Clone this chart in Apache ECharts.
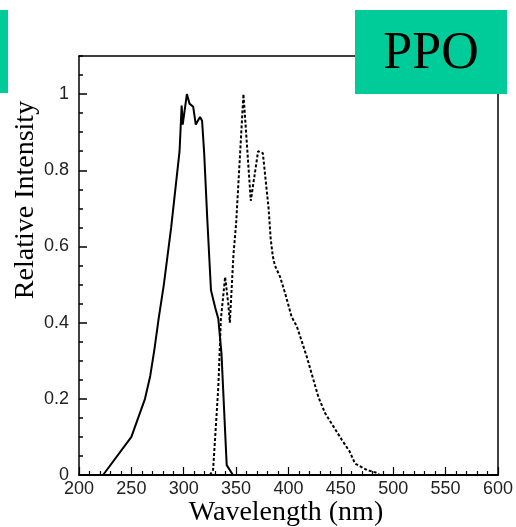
<!DOCTYPE html>
<html>
<head>
<meta charset="utf-8">
<script src="https://cdn.jsdelivr.net/npm/echarts@6/dist/echarts.min.js"></script>
<style>html,body{margin:0;padding:0;background:#fff;}#c{width:516px;height:527px;}</style>
</head>
<body>
<div id="c"></div>
<script>
// Absorption (solid) spectrum
var absWavelength = [223, 250, 263, 268, 272, 276, 281, 288, 296, 298, 299, 303, 305.5, 309, 311.5, 313, 315.5, 317.5, 319.5, 322.5, 326, 330, 333, 336, 341, 347];
var absIntensity  = [0, 0.1, 0.2, 0.26, 0.33, 0.41, 0.5, 0.65, 0.85, 0.97, 0.92, 1.0, 0.975, 0.967, 0.92, 0.92, 0.94, 0.93, 0.845, 0.67, 0.485, 0.44, 0.41, 0.32, 0.026, 0];
// Emission (dotted) spectrum
var emWavelength = [325, 328, 333, 335.5, 339.5, 342.5, 344, 347.5, 350, 357, 364, 371, 375.5, 381, 383, 385, 387, 392, 397, 403, 408, 417.5, 422, 428.5, 435, 443, 451, 458.5, 463.5, 475, 484, 487];
var emIntensity  = [0, 0.013, 0.23, 0.41, 0.52, 0.45, 0.40, 0.58, 0.66, 1.0, 0.72, 0.85, 0.845, 0.70, 0.62, 0.575, 0.55, 0.52, 0.475, 0.415, 0.39, 0.31, 0.267, 0.205, 0.162, 0.127, 0.092, 0.061, 0.03, 0.013, 0.006, 0];

var xTicks = {min: 200, max: 600, step: 50};
var yTicks = {min: 0, max: 1.1, step: 0.2, minorStep: 0.05};
var title = 'PPO';
var xName = 'Wavelength (nm)';
var yName = 'Relative Intensity';

function pairs(xs, ys) { return xs.map(function (x, i) { return [x, ys[i]]; }); }

var chart = echarts.init(document.getElementById('c'), null, {renderer: 'canvas'});
var labelStyle = {color: '#222', fontFamily: 'Liberation Sans', fontSize: 18};
var frameAxis = {
  axisLine: {show: true, onZero: false, lineStyle: {color: '#000', width: 1.5}},
  axisTick: {show: false}, minorTick: {show: false}, axisLabel: {show: false},
  splitLine: {show: false}, minorSplitLine: {show: false}
};
chart.setOption({
  animation: false,
  grid: {left: 79, right: 18, top: 56, bottom: 52},
  xAxis: [{
    type: 'value', position: 'bottom', min: xTicks.min, max: xTicks.max, interval: xTicks.step,
    axisLine: {show: true, onZero: false, lineStyle: {color: '#000', width: 2}},
    axisTick: {show: true, inside: true, length: 8, lineStyle: {color: '#000', width: 1.2}},
    minorTick: {show: true, splitNumber: 5, length: 4, lineStyle: {color: '#000', width: 1.2}},
    splitLine: {show: false},
    minorSplitLine: {show: false},
    axisLabel: Object.assign({show: true, margin: 5}, labelStyle)
  }, Object.assign({type: 'value', position: 'top', min: xTicks.min, max: xTicks.max, interval: xTicks.step}, frameAxis)],
  yAxis: [{
    type: 'value', position: 'left', offset: -8, min: yTicks.min, max: yTicks.max, interval: yTicks.step,
    axisLine: {show: false, onZero: false},
    axisTick: {show: true, inside: false, length: 8, lineStyle: {color: '#000', width: 1.5}},
    minorTick: {show: false},
    splitLine: {show: false},
    minorSplitLine: {show: false},
    axisLabel: Object.assign({show: true, margin: 18, showMaxLabel: false}, labelStyle)
  }, {
    type: 'value', position: 'left', offset: -4, min: yTicks.min, max: yTicks.max, interval: yTicks.minorStep,
    axisLine: {show: false, onZero: false},
    axisTick: {show: true, inside: false, length: 4, lineStyle: {color: '#000', width: 1.5}},
    minorTick: {show: false},
    splitLine: {show: false},
    minorSplitLine: {show: false},
    axisLabel: {show: false}
  }, Object.assign({type: 'value', position: 'left', offset: 0, min: yTicks.min, max: yTicks.max, interval: yTicks.step}, frameAxis),
     Object.assign({type: 'value', position: 'right', offset: 0, min: yTicks.min, max: yTicks.max, interval: yTicks.step}, frameAxis)],
  series: [{
    type: 'line', xAxisIndex: 0, yAxisIndex: 0, data: pairs(absWavelength, absIntensity), showSymbol: false, symbol: 'none',
    lineStyle: {color: '#000', width: 2}
  }, {
    type: 'line', xAxisIndex: 0, yAxisIndex: 0, data: pairs(emWavelength, emIntensity), showSymbol: false, symbol: 'none',
    lineStyle: {color: '#000', width: 2, type: [3, 2]}
  }],
  graphic: [
    {type: 'rect', z: 100, shape: {x: 0, y: 10, width: 8, height: 83}, style: {fill: '#00CC99'}},
    {type: 'rect', z: 100, shape: {x: 355, y: 10, width: 152, height: 84}, style: {fill: '#00CC99'}},
    {type: 'text', z: 101, x: 431, y: 54, style: {text: title, fill: '#000', font: '52px "Liberation Serif"', align: 'center', verticalAlign: 'middle'}},
    {type: 'text', z: 101, x: 286, y: 513, style: {text: xName, fill: '#000', font: '28px "Liberation Serif"', align: 'center', verticalAlign: 'middle'}},
    {type: 'text', z: 101, x: 26, y: 200, rotation: Math.PI / 2, style: {text: yName, fill: '#000', font: '28px "Liberation Serif"', align: 'center', verticalAlign: 'middle'}}
  ]
});
</script>
</body>
</html>
